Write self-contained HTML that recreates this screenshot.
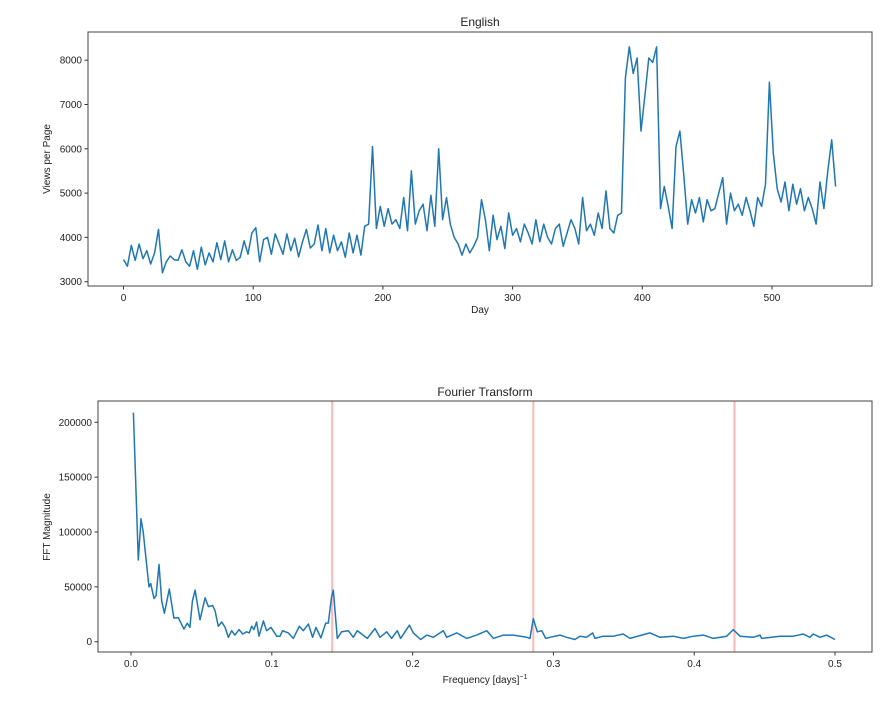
<!DOCTYPE html>
<html><head><meta charset="utf-8"><style>
body{margin:0;background:#fff;width:894px;height:699px;overflow:hidden;font-family:"Liberation Sans",sans-serif}
svg text{font-family:"Liberation Sans",sans-serif;fill:#222}
</style></head><body>
<svg id="fig" width="894" height="699" viewBox="0 0 894 699" xmlns="http://www.w3.org/2000/svg"></svg>
<script>
// Top chart data (every 3 days)
const dayStep = 3;
const views = [3500,3350,3820,3480,3850,3520,3700,3400,3650,4180,3200,3450,3580,3500,3480,3720,3450,3350,3700,3280,3780,3380,3650,3450,3880,3500,3920,3450,3720,3480,3550,3920,3620,4100,4220,3450,3950,4000,3620,4080,3850,3620,4080,3700,3980,3560,3900,4180,3760,3850,4280,3700,4200,3650,4050,3700,3900,3550,4100,3650,4050,3600,4250,4300,6050,4200,4700,4250,4650,4300,4400,4200,4900,4150,5500,4300,4600,4750,4150,4950,4250,6000,4400,4900,4300,4000,3850,3600,3850,3650,3800,4000,4850,4400,3700,4500,3950,4250,3750,4550,4050,4200,3900,4300,4100,3850,4400,3900,4300,4000,3850,4200,4300,3800,4100,4400,4200,3850,4900,4150,4300,4050,4550,4200,5050,4200,4100,4500,4550,7600,8300,7700,8050,6400,7200,8050,7950,8300,4650,5150,4700,4200,6050,6400,5400,4300,4850,4550,4900,4350,4850,4600,4650,5000,5350,4300,5000,4600,4750,4500,4900,4600,4250,4900,4700,5200,7500,5900,5100,4800,5250,4600,5200,4750,5100,4600,4900,4650,4300,5250,4650,5500,6200,5150];
const topXTicks = [0,100,200,300,400,500];
const topYTicks = [3000,4000,5000,6000,7000,8000];
// Bottom chart data
const freqs = [.0017,.0052,.0071,.0087,.0128,.014,.0163,.0178,.0199,.0218,.0237,.0272,.0305,.0336,.0376,.04,.0418,.0436,.0455,.049,.0526,.055,.058,.0597,.062,.0644,.0668,.0691,.0715,.0738,.0767,.0793,.0821,.084,.0857,.0873,.0892,.0909,.094,.0963,.0994,.1035,.1058,.1077,.1117,.1153,.1195,.1224,.126,.129,.1314,.1349,.1383,.1401,.1425,.1437,.1465,.1496,.1543,.1579,.1607,.1638,.1678,.1733,.1768,.1816,.1851,.1891,.1915,.1977,.2005,.2057,.21,.2147,.2218,.2242,.2313,.2384,.2455,.2527,.2574,.2645,.2716,.2811,.2834,.2857,.2886,.2917,.2945,.2976,.3047,.3094,.3153,.3189,.3236,.3279,.3295,.3354,.3425,.3496,.3544,.3627,.3686,.3757,.3852,.3923,.3994,.4065,.4136,.4231,.4278,.4325,.442,.4467,.4479,.4609,.4704,.4775,.4822,.4846,.4893,.494,.5];
const mags = [208.8,74.5,112,100,50,53,39.5,42,70.5,37,26,48,21.5,22,11.5,17,13,37,47,20,40,32,33,28,14,18,13,4,10,6,11,7,9,8,14,11,18,5,19,10,13,5,5,10,8,3,14,10,16,4,13,3.5,17,17,41,47,3,9,10,4,10,7,3,12,4,9,3,10,3,15,8,2,6,4,10,4,8,3,6,10,3,6,6,4,3,21,9,10,3,4,6,4,2,5,4,8,3,5,5,7,3,6,8,4,5,3,5,6,3,5,11,5,4,6,3,5,5,7,4,7,4,6,2];
const markerFreqs = [1/7,2/7,3/7];
const botXTicks = [0,0.1,0.2,0.3,0.4,0.5];
const botYTicks = [0,50000,100000,150000,200000];

const NS='http://www.w3.org/2000/svg', svg=document.getElementById('fig');
function mk(tag,attrs,parent,txt){const e=document.createElementNS(NS,tag);for(const k in attrs)e.setAttribute(k,attrs[k]);if(txt!==undefined)e.textContent=txt;(parent||svg).appendChild(e);return e;}

// Top axes
const T={l:88,r:872,t:32,b:286};
const tx=d=>123.5+d*1.297;
const ty=v=>281.7-(v-3000)*0.0443;
let g=mk('g',{});  
topYTicks.forEach(v=>{const y=ty(v);mk('line',{x1:T.l-3.5,x2:T.l,y1:y,y2:y,stroke:'#333'},g);const t=mk('text',{x:T.l-6,y:y+3.5,'text-anchor':'end','font-size':10},g,String(v));});
topXTicks.forEach(v=>{const x=tx(v);mk('line',{x1:x,x2:x,y1:T.b,y2:T.b+3.5,stroke:'#333'},g);const t=mk('text',{x:x,y:T.b+15,'text-anchor':'middle','font-size':10},g,String(v));});
let pts=views.map((v,i)=>tx(i*dayStep).toFixed(1)+','+ty(v).toFixed(1)).join(' ');
let ln=mk('polyline',{points:pts,fill:'none',stroke:'#1f77b4','stroke-width':1.5,'stroke-linejoin':'round'},g);


mk('rect',{x:T.l,y:T.t,width:T.r-T.l,height:T.b-T.t,fill:'none',stroke:'#444','stroke-width':1},g);
let t1=mk('text',{x:(T.l+T.r)/2,y:26,'text-anchor':'middle','font-size':12},g,'English');

let yl=mk('text',{x:0,y:0,'text-anchor':'middle','font-size':10,transform:'translate(50,159) rotate(-90)'},g,'Views per Page');

let xl=mk('text',{x:(T.l+T.r)/2,y:313,'text-anchor':'middle','font-size':10},g,'Day');


// Bottom axes
const B={l:98,r:872,t:401,b:652};
const bx=f=>131+f*1408;
const by=v=>641.7-v*0.001097;
let g2=mk('g',{});  
botYTicks.forEach(v=>{const y=by(v);mk('line',{x1:B.l-3.5,x2:B.l,y1:y,y2:y,stroke:'#333'},g2);const t=mk('text',{x:B.l-6,y:y+3.5,'text-anchor':'end','font-size':10},g2,String(v));});
botXTicks.forEach(v=>{const x=bx(v);mk('line',{x1:x,x2:x,y1:B.b,y2:B.b+3.5,stroke:'#333'},g2);const t=mk('text',{x:x,y:B.b+15,'text-anchor':'middle','font-size':10},g2,v.toFixed(1));});
markerFreqs.forEach(f=>{const l=mk('line',{x1:bx(f),x2:bx(f),y1:B.t,y2:B.b,stroke:'#ff9999','stroke-opacity':0.7,'stroke-width':2},g2);});
let pts2=freqs.map((f,i)=>bx(f).toFixed(1)+','+by(mags[i]*1000).toFixed(1)).join(' ');
let ln2=mk('polyline',{points:pts2,fill:'none',stroke:'#1f77b4','stroke-width':1.5,'stroke-linejoin':'round'},g2);


mk('rect',{x:B.l,y:B.t,width:B.r-B.l,height:B.b-B.t,fill:'none',stroke:'#444','stroke-width':1},g2);
let t2=mk('text',{x:(B.l+B.r)/2,y:396,'text-anchor':'middle','font-size':12},g2,'Fourier Transform');

let yl2=mk('text',{x:0,y:0,'text-anchor':'middle','font-size':10,transform:'translate(50,527) rotate(-90)'},g2,'FFT Magnitude');

let xl2=mk('text',{x:(B.l+B.r)/2,y:683,'text-anchor':'middle','font-size':10},g2,'Frequency [days]');

mk('tspan',{dy:-4,'font-size':7},xl2,'−1');
</script>
</body></html>
